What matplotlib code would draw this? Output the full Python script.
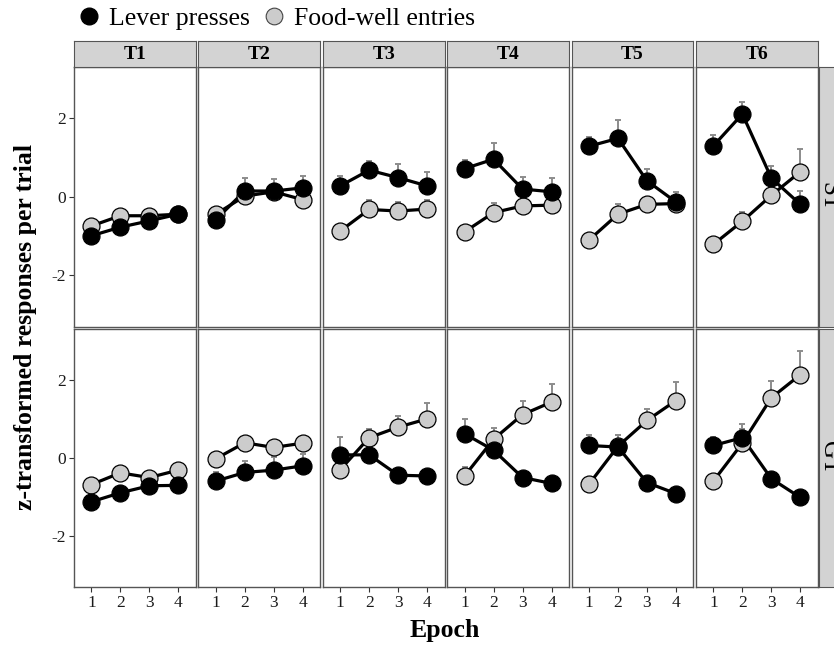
import numpy as np
import matplotlib.pyplot as plt
from matplotlib.lines import Line2D

plt.rcParams["font.family"] = ["Liberation Serif", "DejaVu Serif"]
plt.rcParams["axes.unicode_minus"] = False

# **data**
epochs = [1, 2, 3, 4]
tasks = ["T1", "T2", "T3", "T4", "T5", "T6"]
groups = ["ST", "GT"]

lever_st = [
    [-0.99, -0.77, -0.61, -0.44],
    [-0.58, 0.15, 0.15, 0.23],
    [0.28, 0.68, 0.49, 0.28],
    [0.72, 0.96, 0.20, 0.13],
    [1.29, 1.49, 0.41, -0.13],
    [1.30, 2.11, 0.48, -0.19],
]
lever_st_se = [
    [0.05, 0.05, 0.05, 0.05],
    [0.05, 0.32, 0.31, 0.29],
    [0.25, 0.24, 0.36, 0.36],
    [0.22, 0.40, 0.31, 0.35],
    [0.23, 0.47, 0.29, 0.26],
    [0.27, 0.30, 0.30, 0.34],
]
food_st = [
    [-0.74, -0.48, -0.48, -0.44],
    [-0.44, 0.02, 0.13, -0.07],
    [-0.87, -0.32, -0.36, -0.31],
    [-0.89, -0.40, -0.23, -0.21],
    [-1.10, -0.44, -0.19, -0.17],
    [-1.21, -0.62, 0.04, 0.64],
]
food_st_se = [
    [0.08, 0.08, 0.08, 0.08],
    [0.08, 0.10, 0.10, 0.10],
    [0.15, 0.24, 0.24, 0.24],
    [0.15, 0.25, 0.20, 0.20],
    [0.10, 0.25, 0.20, 0.10],
    [0.10, 0.24, 0.20, 0.57],
]
lever_gt = [
    [-1.12, -0.89, -0.71, -0.70],
    [-0.59, -0.37, -0.31, -0.20],
    [0.08, 0.08, -0.44, -0.46],
    [0.62, 0.20, -0.50, -0.65],
    [0.32, 0.28, -0.63, -0.91],
    [0.32, 0.52, -0.53, -1.01],
]
lever_gt_se = [
    [0.05, 0.05, 0.05, 0.05],
    [0.23, 0.29, 0.34, 0.31],
    [0.45, 0.10, 0.10, 0.10],
    [0.38, 0.20, 0.10, 0.10],
    [0.28, 0.32, 0.10, 0.10],
    [0.22, 0.36, 0.10, 0.10],
]
food_gt = [
    [-0.68, -0.38, -0.50, -0.31],
    [-0.02, 0.39, 0.27, 0.38],
    [-0.30, 0.52, 0.79, 1.00],
    [-0.46, 0.48, 1.11, 1.43],
    [-0.67, 0.30, 0.96, 1.47],
    [-0.59, 0.38, 1.54, 2.13],
]
food_gt_se = [
    [0.05, 0.05, 0.05, 0.05],
    [0.05, 0.05, 0.05, 0.05],
    [0.10, 0.23, 0.28, 0.41],
    [0.23, 0.30, 0.34, 0.47],
    [0.10, 0.30, 0.30, 0.47],
    [0.10, 0.35, 0.42, 0.60],
]

lever = {"ST": (lever_st, lever_st_se), "GT": (lever_gt, lever_gt_se)}
food = {"ST": (food_st, food_st_se), "GT": (food_gt, food_gt_se)}

W, H = 834, 645
fig = plt.figure(figsize=(W / 100, H / 100), dpi=100)


def px_axes(x0, y0, x1, y1):
    return fig.add_axes([x0 / W, 1 - y1 / H, (x1 - x0) / W, (y1 - y0) / H])


border = "#555555"
strip_bg = "#d3d3d3"
grey_pt = "#cccccc"

col_left, col_step, col_w = 74.0, 124.4, 121.7
row_y = [(67.3, 326.5), (329.0, 587.0)]

for r, g in enumerate(groups):
    y0, y1 = row_y[r]
    for c, t in enumerate(tasks):
        x0 = col_left + c * col_step
        ax = px_axes(x0, y0, x0 + col_w, y1)
        for (vals, se), col, z in [(food[g], grey_pt, 3), (lever[g], "black", 4)]:
            m = np.array(vals[c])
            e = np.array(se[c])
            ax.errorbar(epochs, m, yerr=[np.zeros(4), e], fmt="none",
                        ecolor="#8c8c8c", elinewidth=1.4, capsize=2.3,
                        capthick=1.4, zorder=1)
            ax.plot(epochs, m, "-", color="black", lw=2.3, zorder=2)
            ax.plot(epochs, m, "o", ms=12.2, mfc=col, mec="black",
                    mew=0.9, zorder=z)
        ax.set_xlim(0.4, 4.6)
        ax.set_ylim(-3.3, 3.3)
        ax.set_xticks(epochs)
        ax.set_yticks([-2, 0, 2])
        for s in ax.spines.values():
            s.set_color(border)
            s.set_linewidth(1.0)
        ax.tick_params(length=3.5, width=0.8, color="#333333", pad=2,
                       labelsize=12.5, labelcolor="#1a1a1a")
        if c > 0:
            ax.tick_params(axis="y", left=False, labelleft=False)
        if r == 0:
            ax.tick_params(axis="x", bottom=False, labelbottom=False)
            # top strip
            sx = px_axes(x0, 41.0, x0 + col_w, 67.3)
            sx.set_facecolor(strip_bg)
            sx.set_xticks([])
            sx.set_yticks([])
            for s in sx.spines.values():
                s.set_color(border)
            sx.text(0.5, 0.5, t, ha="center", va="center", fontsize=14,
                    fontweight="bold", transform=sx.transAxes)
    # right strip, cut by the figure edge as in the original
    rx = px_axes(819.3, y0, 840.0, y1)
    rx.set_facecolor(strip_bg)
    rx.set_xticks([])
    rx.set_yticks([])
    for s in rx.spines.values():
        s.set_color(border)
    rx.text(0.45, 0.5, g, ha="center", va="center", rotation=270,
            fontsize=18, transform=rx.transAxes)

handles = [
    Line2D([], [], marker="o", ls="", mfc="black", mec="black", ms=12),
    Line2D([], [], marker="o", ls="", mfc=grey_pt, mec="#444444", ms=12, mew=0.8),
]
fig.legend(handles, ["Lever presses", "Food-well entries"], loc="center left",
           bbox_to_anchor=(79 / W, 1 - 19 / H), ncol=2, frameon=False,
           fontsize=18.5, handletextpad=0.37, columnspacing=0.55,
           handlelength=0.8, borderpad=0, borderaxespad=0)

fig.text(26 / W, 1 - 327 / H, "z-transformed responses per trial",
         rotation=90, ha="center", va="center", fontsize=18.5, fontweight="bold")
fig.text(445 / W, 1 - 630 / H, "Epoch", ha="center", va="center",
         fontsize=18.5, fontweight="bold")

plt.savefig("out.png", dpi=100)
